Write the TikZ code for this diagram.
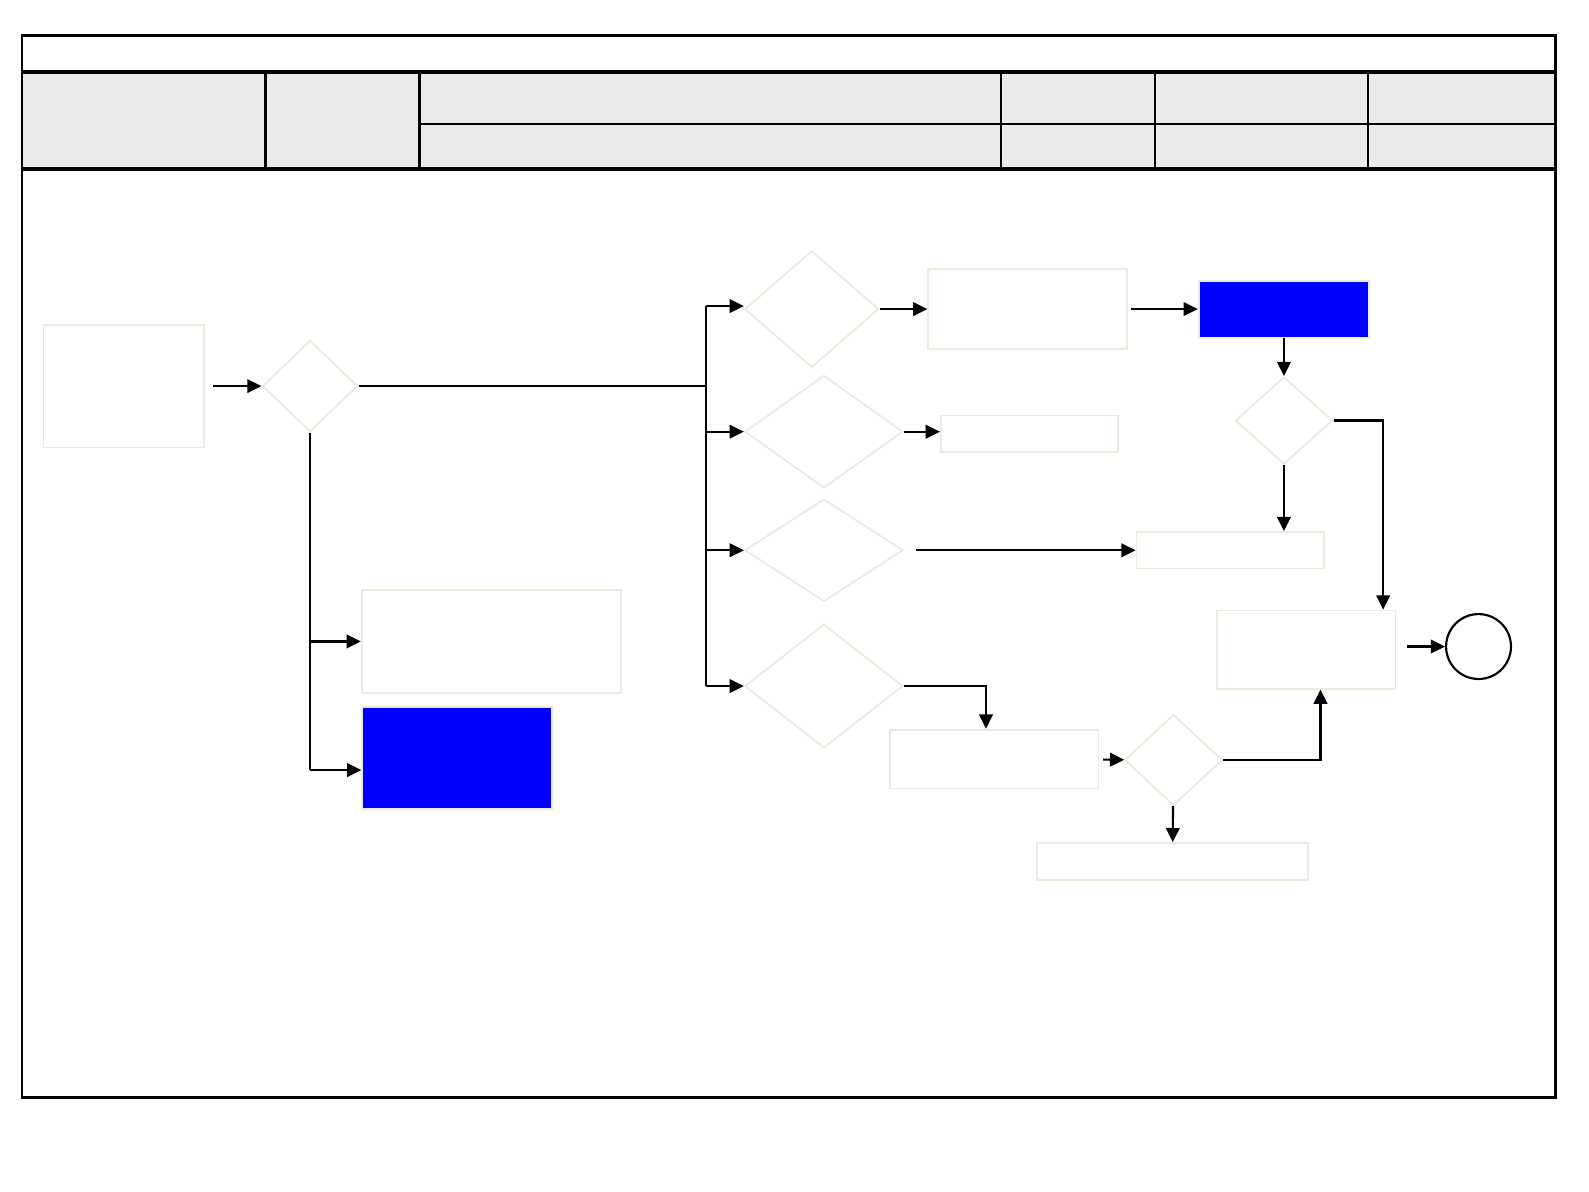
\documentclass[tikz,border=0pt]{standalone}
\usepackage{tikz}
\usetikzlibrary{arrows.meta, positioning, calc, shapes.geometric}
\usepackage{xcolor}
\definecolor{paleline}{HTML}{ECE9DD}
\definecolor{headgray}{HTML}{EAEAEA}
\definecolor{procblue}{HTML}{0000FF}
\tikzset{
  arr/.style={-{Triangle[length=4pt, width=3.8pt]}, line width=0.6pt, #1},
  arr/.default=black,
  bus/.style={line width=0.6pt},
  frameline/.style={line width=0.6pt},
  headline/.style={line width=1.1pt},
}

\begin{document}
\begin{tikzpicture}[x=0.01cm, y=-0.01cm,
  procbox/.style={rectangle, draw=paleline, line width=0.5pt, fill=white,
                  inner sep=0pt, minimum width=#1},
  bluebox/.style={rectangle, draw=paleline, line width=0.5pt, fill=procblue,
                  inner sep=0pt, minimum width=#1},
  decision/.style={diamond, draw=paleline, line width=0.5pt, inner sep=0pt,
                   minimum width=#1},
  endpoint/.style={circle, draw, line width=0.6pt, inner sep=0pt, minimum size=0.64cm}
]
  \useasboundingbox (0,0) rectangle (1568,1176);

  % header
  \fill[headgray] (22,71) rectangle (1533,167);
  \draw[frameline] (22,35) rectangle (1535,1083);
  \draw[headline] (22,71) -- (1533,71);
  \draw[headline] (22,167) -- (1533,167);
  \draw[frameline] (414,122) -- (1533,122);
  \foreach \hx in {262,414,988,1140,1350}
    \draw[frameline] (\hx,71) -- (\hx,167);

  % nodes
  \node[procbox=1.58cm, minimum height=1.21cm] (start) at (122,381) {};
  \node[decision=0.94cm, minimum height=0.90cm] (check) at (306,381) {};
  \node[decision=1.32cm, minimum height=1.15cm] (caseA) at (801,305) {};
  \node[decision=1.56cm, minimum height=1.11cm] (caseB) at (813,426) {};
  \node[decision=1.56cm, minimum height=1.01cm] (caseC) at (813,543) {};
  \node[decision=1.56cm, minimum height=1.22cm] (caseD) at (813,677) {};
  \node[procbox=1.96cm, minimum height=0.79cm] (stepA) at (1014,305) {};
  \node[bluebox=1.68cm, minimum height=0.56cm] (runA) at (1267,305) {};
  \node[decision=0.96cm, minimum height=0.86cm] (testA) at (1267,415) {};
  \node[procbox=1.75cm, minimum height=0.36cm] (stepB) at (1016,428) {};
  \node[procbox=1.85cm, minimum height=0.36cm] (stepC) at (1214,543) {};
  \node[procbox=1.76cm, minimum height=0.77cm] (merge) at (1289,641) {};
  \node[endpoint] (finish) at (1459,638) {};
  \node[procbox=2.06cm, minimum height=0.58cm] (stepD) at (981,749) {};
  \node[decision=0.96cm, minimum height=0.90cm] (testD) at (1158,750) {};
  \node[procbox=2.68cm, minimum height=0.36cm] (failD) at (1157,850) {};
  \node[procbox=2.56cm, minimum height=1.01cm] (optA) at (485,633) {};
  \node[bluebox=1.87cm, minimum height=1.00cm] (optB) at (451,748) {};

  \coordinate (split) at (697,381);
  \coordinate (splitTop) at (697,302);
  \coordinate (splitBot) at (697,677);

  % connectors
  \draw[arr, shorten <=2.3pt] (start) -- (check);
  \draw[bus] (check.east) -- (split);
  \draw[bus] (splitTop) -- (splitBot);
  \draw[arr] (splitTop) -- (splitTop -| caseA.west);
  \draw[arr] (split |- caseB.west) -- (caseB.west);
  \draw[arr] (split |- caseC.west) -- (caseC.west);
  \draw[arr] (splitBot) -- (caseD.west);
  \draw[arr] (caseA) -- (stepA);
  \draw[arr, shorten <=1pt] (stepA) -- (runA);
  \draw[arr] (runA) -- (testA);
  \draw[arr] (testA) -- (testA |- stepC.north);
  \draw[arr] (testA.east) -| ($(merge.north east)+(-13,0)$);
  \draw[arr] (caseB.east) -- (caseB.east -| stepB.west);
  \draw[arr, shorten <=3.4pt] (caseC.east) -- (stepC);
  \draw[arr] (caseD.east) -| ($(stepD.north)+(-8,0)$);
  \draw[arr, shorten <=1pt] (stepD) -- (testD);
  \draw[arr] (testD.east) -| ($(merge.south)+(14,0)$);
  \draw[arr] (testD) -- (failD);
  \draw[arr, shorten <=3pt] (merge.east |- finish.west) -- (finish.west);
  \draw[bus] (check.south) -- ++(0,333) coordinate (drop);
  \draw[arr] (check.south |- optA.west) -- (optA.west);
  \draw[arr] (drop) -- (drop -| optB.west);
\end{tikzpicture}
\end{document}
